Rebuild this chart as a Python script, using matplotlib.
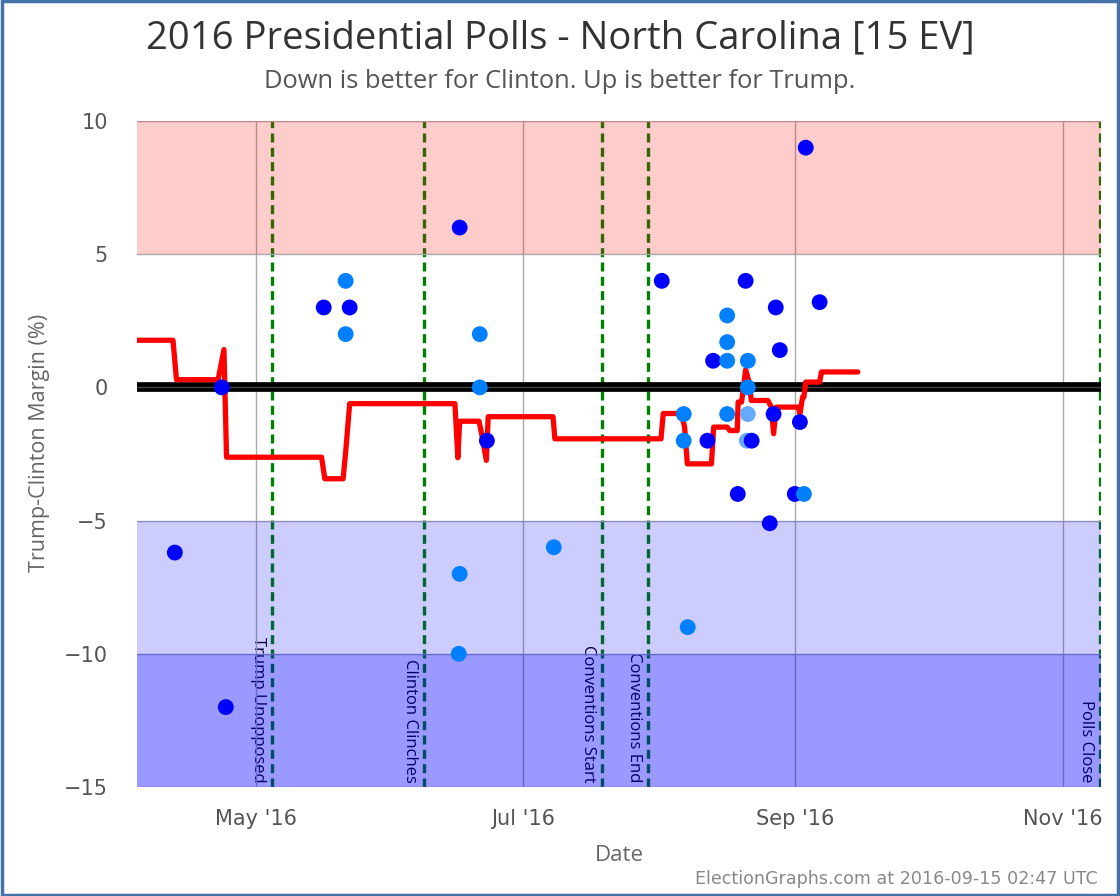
import matplotlib
matplotlib.use("Agg")
import matplotlib.pyplot as plt
import matplotlib.dates as mdates
import pandas as pd
from matplotlib.patches import Rectangle

# ---------------- data ----------------
poll_dates = [
    "2016-04-12 13:00", "2016-04-23 06:00", "2016-04-24 04:00",
    "2016-05-16 12:00", "2016-05-21 12:00", "2016-05-21 12:00", "2016-05-22 10:00",
    "2016-06-16 07:00", "2016-06-16 12:00", "2016-06-16 12:00",
    "2016-06-21 02:00", "2016-06-21 02:00", "2016-06-22 17:00",
    "2016-07-07 23:00",
    "2016-08-01 14:00", "2016-08-06 14:00", "2016-08-06 14:00", "2016-08-07 12:00",
    "2016-08-12 00:00", "2016-08-13 07:00",
    "2016-08-16 12:00", "2016-08-16 12:00", "2016-08-16 12:00", "2016-08-16 12:00",
    "2016-08-18 22:00", "2016-08-20 17:00", "2016-08-21 00:00",
    "2016-08-21 05:00", "2016-08-21 05:00", "2016-08-21 05:00",
    "2016-08-22 02:00", "2016-08-26 05:00", "2016-08-27 02:00", "2016-08-27 14:00",
    "2016-08-28 12:00", "2016-08-31 22:00", "2016-09-02 02:00", "2016-09-03 00:00",
    "2016-09-03 10:00", "2016-09-06 14:00",
]
poll_margins = [
    -6.2, 0.0, -12.0,
    3.0, 4.0, 2.0, 3.0,
    -10.0, 6.0, -7.0,
    2.0, 0.0, -2.0,
    -6.0,
    4.0, -1.0, -2.0, -9.0,
    -2.0, 1.0,
    2.7, 1.7, 1.0, -1.0,
    -4.0, 4.0, -2.0,
    1.0, 0.0, -1.0,
    -2.0, -5.1, -1.0, 3.0,
    1.4, -4.0, -1.3, -4.0,
    9.0, 3.2,
]
poll_shades = [
    "dark", "dark", "dark",
    "dark", "mid", "mid", "dark",
    "mid", "dark", "mid",
    "mid", "mid", "dark",
    "mid",
    "dark", "mid", "mid", "mid",
    "dark", "dark",
    "mid", "mid", "mid", "mid",
    "dark", "dark", "light",
    "mid", "mid", "light",
    "dark", "dark", "dark", "dark",
    "dark", "dark", "dark", "mid",
    "dark", "dark",
]

avg_dates = [
    "2016-04-03 22:00", "2016-04-12 03:00", "2016-04-12 22:00", "2016-04-22 10:00",
    "2016-04-23 18:00", "2016-04-24 08:00", "2016-05-16 00:00", "2016-05-16 18:00",
    "2016-05-20 22:00", "2016-05-21 12:00", "2016-05-22 10:00", "2016-06-15 10:00",
    "2016-06-16 02:00", "2016-06-16 12:00", "2016-06-20 22:00", "2016-06-21 12:00",
    "2016-06-22 14:00", "2016-06-23 00:00", "2016-07-07 19:00", "2016-07-08 05:00",
    "2016-08-01 10:00", "2016-08-01 22:00", "2016-08-06 02:00", "2016-08-06 19:00",
    "2016-08-07 10:00", "2016-08-12 22:00", "2016-08-13 10:00", "2016-08-16 12:00",
    "2016-08-17 02:00", "2016-08-18 19:00", "2016-08-19 00:00", "2016-08-19 19:00",
    "2016-08-20 17:00", "2016-08-21 12:00", "2016-08-22 00:00", "2016-08-25 19:00",
    "2016-08-26 14:00", "2016-08-27 02:00", "2016-08-27 17:00", "2016-09-01 17:00",
    "2016-09-02 02:00", "2016-09-02 17:00", "2016-09-03 00:00", "2016-09-03 10:00",
    "2016-09-06 14:00", "2016-09-07 00:00", "2016-09-15 07:00",
]
avg_margins = [
    1.77, 1.77, 0.29, 0.29,
    1.42, -2.62, -2.62, -3.43,
    -3.43, -2.43, -0.61, -0.61,
    -2.64, -1.27, -1.27, -1.74,
    -2.74, -1.10, -1.10, -1.93,
    -1.93, -0.98, -0.98, -1.49,
    -2.87, -2.87, -1.49, -1.49,
    -1.62, -1.62, -0.55, -0.55,
    0.66, 0.20, -0.49, -0.49,
    -0.74, -1.74, -0.74, -0.74,
    -0.99, -0.36, -0.36, 0.20,
    0.20, 0.58, 0.58,
]

event_dates = ["2016-05-04 16:00", "2016-06-08 07:00", "2016-07-18 22:00",
               "2016-07-29 10:00", "2016-11-09 12:00"]
event_labels = ["Trump Unopposed", "Clinton Clinches", "Conventions Start",
                "Conventions End", "Polls Close"]

band_lows = [5, -10, -15]
band_highs = [10, -5, -10]
band_colors = ["#ff0000", "#0000ff", "#0000ff"]
band_alphas = [0.2, 0.2, 0.4]

x_start = "2016-04-03 22:00"
x_end = "2016-11-09 18:00"
y_ticks = [10, 5, 0, -5, -10, -15]

shade_colors = {"dark": "#0000ff", "mid": "#0080ff", "light": "#66aaff"}

# ---------------- figure ----------------
W, H = 1120, 896
fig = plt.figure(figsize=(11.2, 8.96), dpi=100)
ax = fig.add_axes([137 / W, 1 - 787 / H, (1101 - 137) / W, (787 - 121) / H])

pdates = pd.to_datetime(poll_dates)
adates = pd.to_datetime(avg_dates)
edates = pd.to_datetime(event_dates)

ax.set_xlim(pd.Timestamp(x_start), pd.Timestamp(x_end))
ax.set_ylim(-15, 10)

# event lines and labels (under the translucent bands)
for d, lab in zip(edates, event_labels):
    ax.axvline(d, color="#008000", lw=2.4, linestyle=(0, (2.7, 1.6)), zorder=1)
    ax.annotate(lab, xy=(mdates.date2num(d), -15), xycoords="data",
                xytext=(-4, 3), textcoords="offset points",
                rotation=-90, ha="right", va="bottom", fontsize=12,
                family=["Open Sans", "DejaVu Sans"], color="black", zorder=1)

# bands
for lo, hi, c, a in zip(band_lows, band_highs, band_colors, band_alphas):
    ax.axhspan(lo, hi, color=c, alpha=a, lw=0, zorder=2)

# zero line
ax.axhline(0, color="black", lw=7, zorder=2.5)
ax.axhline(0, color="#444444", lw=1, zorder=2.6)

# grid
ax.set_yticks(y_ticks)
ax.xaxis.set_major_locator(mdates.MonthLocator(bymonth=[5, 7, 9, 11]))
ax.xaxis.set_major_formatter(mdates.DateFormatter("%b '%y"))
ax.grid(True, color="#aaaaaa", lw=1.0)

# running average
ax.plot(adates, avg_margins, color="#ff0000", lw=3.8, solid_joinstyle="round",
        solid_capstyle="round", zorder=4)

# polls
ax.scatter(pdates, poll_margins, s=130, c=[shade_colors[s] for s in poll_shades],
           linewidths=0, zorder=5)

for sp in ax.spines.values():
    sp.set_visible(False)
ax.tick_params(axis="x", length=0, labelsize=15, labelcolor="#555555", pad=16)
ax.tick_params(axis="y", length=0, labelsize=15, labelcolor="#555555", pad=21)
for t in ax.get_xticklabels() + ax.get_yticklabels():
    t.set_family(["DejaVu Sans"])

ax.set_xlabel("Date", fontsize=16, color="#666666",
              family=["Open Sans", "DejaVu Sans"], labelpad=11)
ax.set_ylabel("Trump-Clinton Margin (%)", fontsize=15.5, color="#666666",
              family=["Open Sans", "DejaVu Sans"])
ax.yaxis.set_label_coords((50 - 137) / (1101 - 137), (787 - 443) / (787 - 121))

fig.text(0.5, 1 - 38 / H, "2016 Presidential Polls - North Carolina [15 EV]",
         ha="center", va="center", fontsize=27.5, color="#333333",
         family=["Open Sans", "DejaVu Sans"])
fig.text(0.5, 1 - 81 / H, "Down is better for Clinton. Up is better for Trump.",
         ha="center", va="center", fontsize=18.4, color="#555555",
         family=["Open Sans", "DejaVu Sans"])
fig.text(1098 / W, 1 - 879 / H, "ElectionGraphs.com at 2016-09-15 02:47 UTC",
         ha="right", va="center", fontsize=12.6, color="#888888",
         family=["DejaVu Sans"])

fig.patches.append(Rectangle((0.0015, 0.0015), 0.997, 0.997, transform=fig.transFigure,
                             fill=False, edgecolor="#4572a7", lw=2.5, zorder=10))

fig.savefig("out.png", dpi=100)
